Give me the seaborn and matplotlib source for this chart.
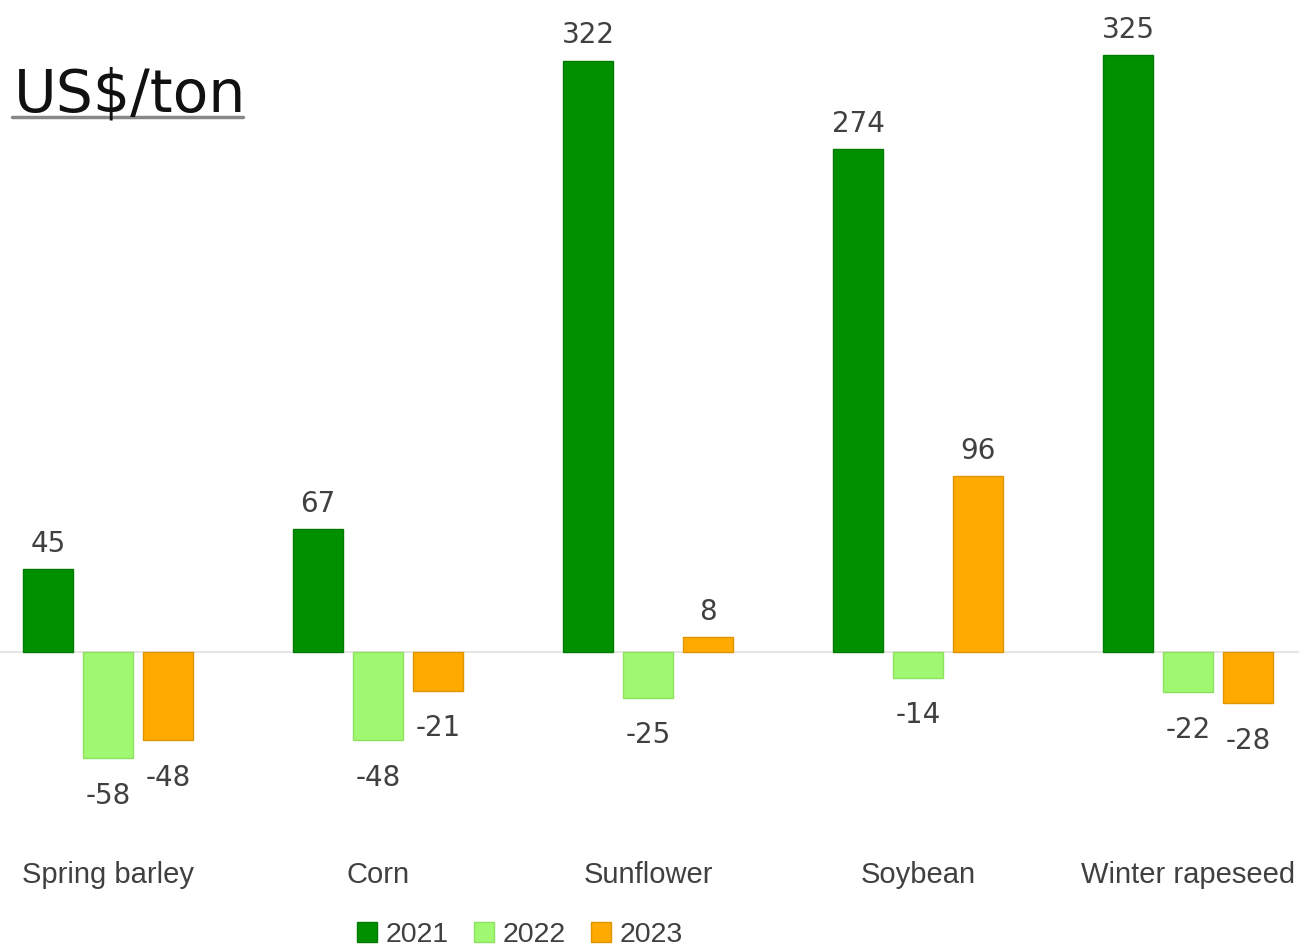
import matplotlib
matplotlib.use("Agg")
import matplotlib.pyplot as plt
import seaborn as sns
import pandas as pd
from matplotlib.lines import Line2D

categories = ["Spring barley", "Corn", "Sunflower", "Soybean", "Winter rapeseed"]
years = ["2021", "2022", "2023"]
v2021 = [45, 67, 322, 274, 325]
v2022 = [-58, -48, -25, -14, -22]
v2023 = [-48, -21, 8, 96, -28]
colors = {"2021": "#009000", "2022": "#A0F870", "2023": "#FFAA00"}
edges = {"2021": "#007a00", "2022": "#8ee060", "2023": "#e09500"}

rows = []
for y, vals in zip(years, [v2021, v2022, v2023]):
    for c, v in zip(categories, vals):
        rows.append({"Crop": c, "Year": y, "Value": v})
df = pd.DataFrame(rows)

sns.set_style("white")
plt.rcParams['font.family'] = ['DejaVu Sans']

fig = plt.figure(figsize=(12.99, 9.48), dpi=100)
ax = fig.add_axes([0, (948 - 800) / 948, 1, 800 / 948])

sns.barplot(data=df, x="Crop", y="Value", hue="Year", order=categories,
            hue_order=years, palette=colors, width=0.667, gap=0.167,
            ax=ax, legend=False, saturation=1)

for cont, y in zip(ax.containers, years):
    for p in cont:
        p.set_edgecolor(edges[y])
        p.set_linewidth(1)
    for p, v in zip(cont, df[df.Year == y]["Value"]):
        x = p.get_x() + p.get_width() / 2
        if v >= 0:
            ax.annotate(f"{v}", (x, v), xytext=(0, 8), textcoords="offset points",
                        ha="center", va="bottom", fontsize=20, color="#404040")
        else:
            ax.annotate(f"{v}", (x, v), xytext=(0, -17), textcoords="offset points",
                        ha="center", va="top", fontsize=20, color="#404040")

ax.axhline(0, color="#e6e6e6", lw=1.5, zorder=0)
ax.set_xlim(-0.4, 4.411)
ax.set_ylim(-80.6, 355)
ax.set_xlabel("")
ax.set_ylabel("")
ax.set_yticks([])
ax.tick_params(axis="x", length=0, pad=44, labelsize=21, labelcolor="#404040")
for lbl in ax.get_xticklabels():
    lbl.set_family("Liberation Sans")
for s in ax.spines.values():
    s.set_visible(False)

fig.text(14 / 1299, 1 - 112 / 948, "US$/ton", fontsize=42, color="#111111",
         ha="left", va="baseline")
fig.add_artist(Line2D([12 / 1299, 243 / 1299], [1 - 117 / 948, 1 - 117 / 948],
                      color="#888888", lw=2.5))

handles = [plt.Rectangle((0, 0), 1, 1, facecolor=colors[y], edgecolor=edges[y]) for y in years]
leg = fig.legend(handles, years, loc="center", bbox_to_anchor=(520 / 1299, 1 - 935 / 948),
                 ncol=3, frameon=False, handlelength=0.7, handleheight=0.7,
                 handletextpad=0.3, columnspacing=0.9, labelcolor="#404040",
                 prop={"family": "Liberation Sans", "size": 20.5})

fig.savefig("out.png", dpi=100)
